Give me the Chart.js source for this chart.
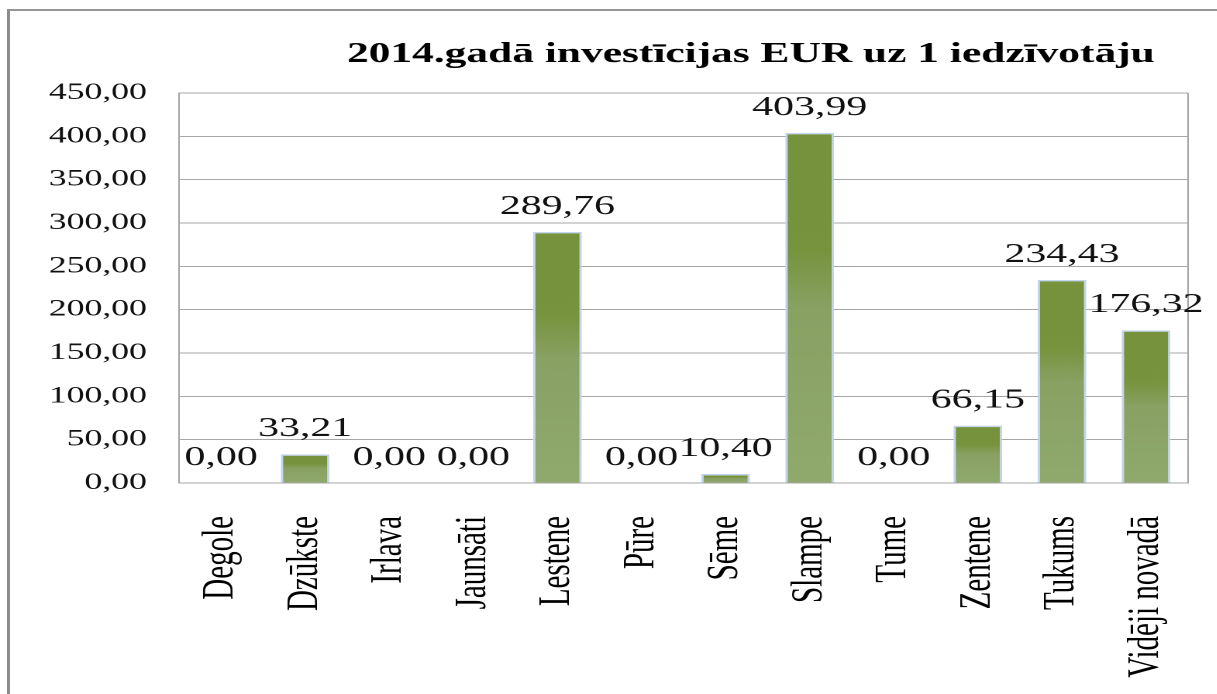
<!DOCTYPE html>
<html>
<head>
<meta charset="utf-8">
<script src="https://cdn.jsdelivr.net/npm/chart.js@4.4.1/dist/chart.umd.min.js"></script>
<style>
  html, body { margin: 0; padding: 0; background: #fff; }
  body { width: 1217px; height: 694px; position: relative; overflow: hidden; }
  #frame {
    position: absolute; left: 7px; top: 9px; right: 0; bottom: 0;
    border-left: 3px solid #8c8c8c; border-top: 2px solid #969696;
  }
  /* the original picture is stretched sideways, so the chart is drawn narrow and widened */
  #wrap {
    position: absolute; left: 0; top: 0; width: 785px; height: 694px;
    transform: scaleX(1.55); transform-origin: 0 0;
  }
</style>
</head>
<body>
<div id="frame"></div>
<div id="wrap"><canvas id="chart"></canvas></div>
<script>
const chartTitle = '2014.gadā investīcijas EUR uz 1 iedzīvotāju';
const categories = ['Degole', 'Dzūkste', 'Irlava', 'Jaunsāti', 'Lestene', 'Pūre',
                    'Sēme', 'Slampe', 'Tume', 'Zentene', 'Tukums', 'Vidēji novadā'];
const values = [0.00, 33.21, 0.00, 0.00, 289.76, 0.00, 10.40, 403.99, 0.00, 66.15, 234.43, 176.32];
const yMin = 0;
const yMax = 450;
const yStep = 50;

const SERIF = "'Liberation Serif', 'Times New Roman', serif";
const GRID = '#a6a6a6';

function fmt(v) {
    return v.toFixed(2).replace('.', ',');
}

// Zaļais gradients katram stabiņam
function barFill(c) {
    const chart = c.chart;
    if (!chart.chartArea || c.type !== 'data') return '#76923c';
    const y = chart.scales.y;
    const top = y.getPixelForValue(values[c.dataIndex]);
    const bot = y.getPixelForValue(0);
    if (bot - top < 1) return '#76923c';
    const g = chart.ctx.createLinearGradient(0, top, 0, bot);
    g.addColorStop(0, '#76923c');
    g.addColorStop(0.33, '#77933d');
    g.addColorStop(0.5, '#89a163');
    g.addColorStop(1, '#90a96d');
    return g;
}

const extras = {
    id: 'extras',
    beforeDatasetsDraw(chart) {
        const { ctx, chartArea: a } = chart;
        ctx.save();
        ctx.strokeStyle = GRID;
        ctx.lineWidth = 1;
        ctx.beginPath();
        ctx.moveTo(a.right, a.top);
        ctx.lineTo(a.right, a.bottom);
        ctx.stroke();
        ctx.restore();
    },
    afterDatasetsDraw(chart) {
        const { ctx } = chart;
        const meta = chart.getDatasetMeta(0);
        ctx.save();
        ctx.font = '27px ' + SERIF;
        ctx.fillStyle = '#111';
        ctx.textAlign = 'center';
        ctx.textBaseline = 'alphabetic';
        meta.data.forEach((bar, i) => {
            ctx.fillText(fmt(values[i]), bar.x, bar.y - 18);
        });
        // virsraksts
        ctx.font = 'bold 28px ' + SERIF;
        ctx.fillStyle = '#000';
        ctx.textAlign = 'right';
        ctx.fillText(chartTitle, 745, 62);
        ctx.restore();
    }
};

new Chart(document.getElementById('chart'), {
    type: 'bar',
    data: {
        labels: categories,
        datasets: [{
            data: values,
            backgroundColor: barFill,
            borderColor: '#c3d5ee',
            borderWidth: 1.5,
            categoryPercentage: 1,
            barPercentage: 0.58
        }]
    },
    options: {
        responsive: true,
        maintainAspectRatio: false,
        devicePixelRatio: 2,
        animation: false,
        layout: { padding: { left: 0, right: 18.5, top: 93, bottom: 0 } },
        plugins: {
            legend: { display: false },
            title: { display: false },
            tooltip: { enabled: false }
        },
        scales: {
            x: {
                grid: { display: false },
                border: { display: true, color: GRID, width: 1 },
                ticks: {
                    color: '#000',
                    font: { family: SERIF, size: 29 },
                    minRotation: 90,
                    maxRotation: 90,
                    padding: 25,
                    autoSkip: false
                },
                afterFit(s) {
                    s.height = 211;
                    s.paddingLeft = 0;
                    s.paddingRight = 0;
                }
            },
            y: {
                min: yMin,
                max: yMax,
                grid: { color: GRID, lineWidth: 1, drawTicks: false },
                border: { display: true, color: GRID, width: 1 },
                ticks: {
                    stepSize: yStep,
                    color: '#111',
                    padding: 20.7,
                    font: { family: SERIF, size: 23 },
                    callback: (v) => fmt(v)
                },
                afterFit(s) { s.width = 115.5; }
            }
        }
    },
    plugins: [extras]
});
</script>
</body>
</html>
